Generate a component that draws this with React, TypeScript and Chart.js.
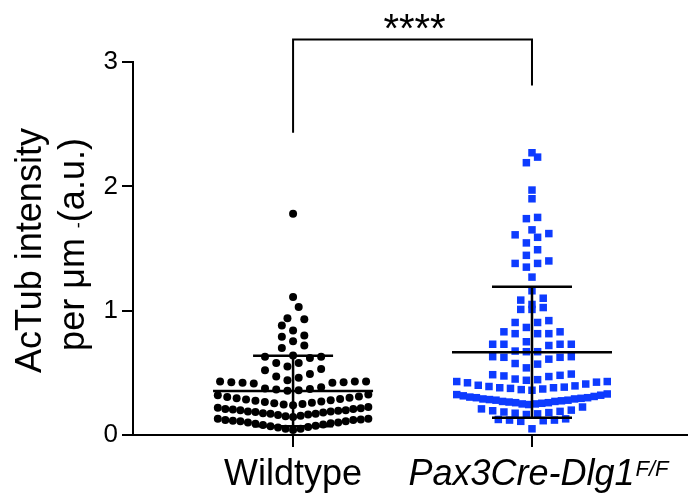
import React, { useEffect, useRef } from "react";
import { Chart, registerables } from "chart.js";

Chart.register(...registerables);

// ---------- data ----------
const GROUP_LABELS = ["Wildtype", "Pax3Cre-Dlg1"];
const GROUP_SUPERSCRIPTS = ["", "F/F"];
const Y_TICKS = [0, 1, 2, 3];
const Y_TITLE_LINE1 = "AcTub intensity";
const Y_TITLE_LINE2 = ["per μm ", "-", "(a.u.)"];
const SIGNIFICANCE = "****";
const BRACKET_TOP = 3.18;
const BRACKET_ENDS = [2.43, 2.81];

const WILDTYPE = [
  // lowest row
  0.04, 0.05, 0.05, 0.06, 0.065, 0.07, 0.075, 0.08, 0.085, 0.09, 0.095, 0.1, 0.1, 0.11, 0.11, 0.115, 0.12,
  0.12, 0.125, 0.13, 0.13,
  // second row
  0.145, 0.15, 0.155, 0.16, 0.165, 0.17, 0.17, 0.175, 0.18, 0.185, 0.19, 0.19, 0.195, 0.2, 0.2, 0.205,
  0.21, 0.21, 0.215, 0.22, 0.225,
  // third row
  0.24, 0.245, 0.25, 0.255, 0.26, 0.265, 0.27, 0.275, 0.28, 0.285, 0.29, 0.295, 0.3, 0.305, 0.31, 0.32, 0.325,
  // fourth row
  0.355, 0.36, 0.365, 0.37, 0.375, 0.385, 0.415, 0.42, 0.42, 0.425, 0.425, 0.43, 0.43, 0.43,
  // upper points
  0.44, 0.46, 0.47, 0.49, 0.52, 0.53, 0.55, 0.58, 0.58, 0.62, 0.63, 0.63, 0.64, 0.7, 0.72, 0.755, 0.79, 0.8,
  0.84, 0.88, 0.93, 0.94, 1.03, 1.11, 1.78,
];

const MUTANT = [
  0.05, 0.11, 0.115, 0.12, 0.12, 0.125, 0.13,
  0.165, 0.17, 0.175, 0.18, 0.185, 0.19, 0.195, 0.2, 0.21, 0.225,
  0.245, 0.25, 0.25, 0.255, 0.26, 0.26, 0.265, 0.27, 0.27, 0.275, 0.28, 0.28, 0.285, 0.29, 0.29, 0.295, 0.3,
  0.3, 0.305, 0.31, 0.315, 0.32, 0.325, 0.33,
  0.36, 0.365, 0.37, 0.375, 0.38, 0.38, 0.385, 0.39, 0.395, 0.4, 0.41, 0.42, 0.425, 0.43, 0.43,
  0.44, 0.445, 0.45, 0.47, 0.475, 0.48, 0.485, 0.49,
  0.54, 0.57, 0.575, 0.61, 0.625, 0.625, 0.63, 0.63,
  0.67, 0.67, 0.675, 0.72, 0.73, 0.73, 0.73, 0.73,
  0.75, 0.815, 0.815, 0.815, 0.83, 0.83,
  0.865, 0.905, 0.905, 0.92,
  1.01, 1.01, 1.025,
  1.05, 1.085, 1.1,
  1.16, 1.27, 1.35, 1.38, 1.38, 1.4, 1.445, 1.49, 1.545, 1.59, 1.61, 1.62, 1.65, 1.74, 1.75, 1.9, 1.97,
  2.19, 2.235, 2.27,
];

const GROUPS = [WILDTYPE, MUTANT];

// ---------- helpers ----------
const FONT = "'Liberation Sans', Arial, Helvetica, sans-serif";

function mean(v: number[]) {
  return v.reduce((a, b) => a + b, 0) / v.length;
}
function sd(v: number[]) {
  const m = mean(v);
  return Math.sqrt(v.reduce((a, b) => a + (b - m) * (b - m), 0) / (v.length - 1));
}

// GraphPad-like swarm: values binned into rows, lowest values in the middle
function swarm(values: number[], center: number) {
  const BIN = 0.1;
  const BIN0 = 0.035;
  const STEP = 0.047;
  const MAXW = 0.63;
  const bins = new Map<number, number[]>();
  for (const v of values) {
    const k = Math.floor((v - BIN0) / BIN);
    if (!bins.has(k)) bins.set(k, []);
    bins.get(k)!.push(v);
  }
  const pts: { x: number; y: number }[] = [];
  bins.forEach((vals) => {
    vals.sort((a, b) => a - b);
    const n = vals.length;
    const step = n > 1 ? Math.min(STEP, MAXW / (n - 1)) : 0;
    const slots = Array.from({ length: n }, (_, i) => (i - (n - 1) / 2) * step);
    slots.sort((a, b) => Math.abs(a) - Math.abs(b) || a - b);
    vals.forEach((v, i) => pts.push({ x: center + slots[i], y: v }));
  });
  return pts;
}

const overlay = {
  id: "overlay",
  afterDatasetsDraw(chart: any) {
    const { ctx, scales } = chart;
    const x = scales.x;
    const y = scales.y;
    ctx.save();
    ctx.strokeStyle = "#000";
    ctx.lineWidth = 2.5;
    GROUPS.forEach((vals, i) => {
      const cx = x.getPixelForValue(i + 1);
      const m = mean(vals);
      const s = sd(vals);
      const ym = y.getPixelForValue(m);
      const yt = y.getPixelForValue(m + s);
      const yb = y.getPixelForValue(Math.max(0, m - s));
      ctx.beginPath();
      ctx.moveTo(cx - 80, ym);
      ctx.lineTo(cx + 80, ym);
      ctx.moveTo(cx, yt);
      ctx.lineTo(cx, yb);
      ctx.moveTo(cx - 40, yt);
      ctx.lineTo(cx + 40, yt);
      ctx.moveTo(cx - 40, yb);
      ctx.lineTo(cx + 40, yb);
      ctx.stroke();
    });
    ctx.restore();
  },
  afterDraw(chart: any) {
    const { ctx, scales, chartArea } = chart;
    const x = scales.x;
    const y = scales.y;
    ctx.save();
    // significance bracket
    const x1 = x.getPixelForValue(1);
    const x2 = x.getPixelForValue(2);
    const top = y.getPixelForValue(BRACKET_TOP);
    ctx.strokeStyle = "#000";
    ctx.lineWidth = 2;
    ctx.beginPath();
    ctx.moveTo(x1, y.getPixelForValue(BRACKET_ENDS[0]));
    ctx.lineTo(x1, top);
    ctx.lineTo(x2, top);
    ctx.lineTo(x2, y.getPixelForValue(BRACKET_ENDS[1]));
    ctx.stroke();
    ctx.fillStyle = "#000";
    ctx.font = `40px ${FONT}`;
    ctx.textAlign = "center";
    ctx.textBaseline = "alphabetic";
    ctx.fillText(SIGNIFICANCE, (x1 + x2) / 2 + 2, top + 2);

    // category labels
    const base = chartArea.bottom + 50;
    GROUP_LABELS.forEach((label, i) => {
      const cx = x.getPixelForValue(i + 1);
      const sup = GROUP_SUPERSCRIPTS[i];
      if (!sup) {
        ctx.font = `36px ${FONT}`;
        ctx.textAlign = "center";
        ctx.fillText(label, cx, base);
      } else {
        ctx.textAlign = "left";
        ctx.font = `italic 36px ${FONT}`;
        const w1 = ctx.measureText(label).width;
        ctx.font = `italic 22px ${FONT}`;
        const w2 = ctx.measureText(sup).width;
        const start = cx - (w1 + w2) / 2 + 6;
        ctx.font = `italic 36px ${FONT}`;
        ctx.fillText(label, start, base);
        ctx.font = `italic 22px ${FONT}`;
        ctx.fillText(sup, start + w1 + 1, base - 9);
      }
    });

    // y title
    const cy = (chartArea.top + chartArea.bottom) / 2;
    ctx.save();
    ctx.translate(41, cy + 2);
    ctx.rotate(-Math.PI / 2);
    ctx.font = `36px ${FONT}`;
    ctx.textAlign = "center";
    ctx.fillText(Y_TITLE_LINE1, 0, 0);
    ctx.restore();

    ctx.save();
    ctx.translate(84, cy - 4);
    ctx.rotate(-Math.PI / 2);
    ctx.textAlign = "left";
    const fonts = [`36px ${FONT}`, `18px ${FONT}`, `36px ${FONT}`];
    const widths = Y_TITLE_LINE2.map((t, i) => {
      ctx.font = fonts[i];
      return ctx.measureText(t).width;
    });
    let px = -widths.reduce((a, b) => a + b, 0) / 2;
    Y_TITLE_LINE2.forEach((t, i) => {
      ctx.font = fonts[i];
      ctx.fillText(t, px, 0);
      px += widths[i];
    });
    ctx.restore();

    ctx.restore();
  },
};

export default function App() {
  const ref = useRef<HTMLCanvasElement>(null);

  useEffect(() => {
    if (!ref.current) return;
    const chart = new Chart(ref.current, {
      type: "scatter",
      data: {
        datasets: [
          {
            label: GROUP_LABELS[0],
            data: swarm(WILDTYPE, 1),
            pointStyle: "circle",
            pointRadius: 4,
            pointBackgroundColor: "#000",
            pointBorderWidth: 0,
          },
          {
            label: GROUP_LABELS[1],
            data: swarm(MUTANT, 2),
            pointStyle: "rect",
            pointRadius: 5.3,
            pointBackgroundColor: "#0d3bff",
            pointBorderWidth: 0,
          },
        ],
      },
      options: {
        responsive: false,
        animation: false,
        devicePixelRatio: 1,
        clip: false as any,
        layout: { autoPadding: false, padding: { top: 62, left: 0, right: 0, bottom: 0 } },
        plugins: {
          legend: { display: false },
          tooltip: { enabled: false },
          title: { display: false },
        },
        scales: {
          x: {
            type: "linear",
            min: 0.33,
            max: 2.653,
            afterBuildTicks: (s: any) => {
              s.ticks = [{ value: 1 }, { value: 2 }];
            },
            afterFit: (s: any) => {
              s.height = 67;
            },
            ticks: { callback: () => "", autoSkip: false },
            grid: {
              drawOnChartArea: false,
              drawTicks: true,
              tickLength: 12,
              color: "#000",
              lineWidth: 2,
            },
            border: { display: true, color: "#000", width: 2 },
          },
          y: {
            type: "linear",
            min: 0,
            max: 3,
            afterBuildTicks: (s: any) => {
              s.ticks = Y_TICKS.map((v) => ({ value: v }));
            },
            afterFit: (s: any) => {
              s.width = 133;
            },
            ticks: {
              color: "#000",
              font: { family: FONT, size: 26 },
              padding: 4,
              callback: (v: any) => String(v),
            },
            grid: {
              drawOnChartArea: false,
              drawTicks: true,
              tickLength: 11,
              color: "#000",
              lineWidth: 2,
            },
            border: { display: true, color: "#000", width: 2 },
          },
        },
      },
      plugins: [overlay],
    });
    return () => chart.destroy();
  }, []);

  return (
    <div style={{ position: "fixed", left: 0, top: 0, width: 688, height: 502, background: "#fff" }}>
      <canvas ref={ref} width={688} height={502} style={{ display: "block" }} />
    </div>
  );
}
